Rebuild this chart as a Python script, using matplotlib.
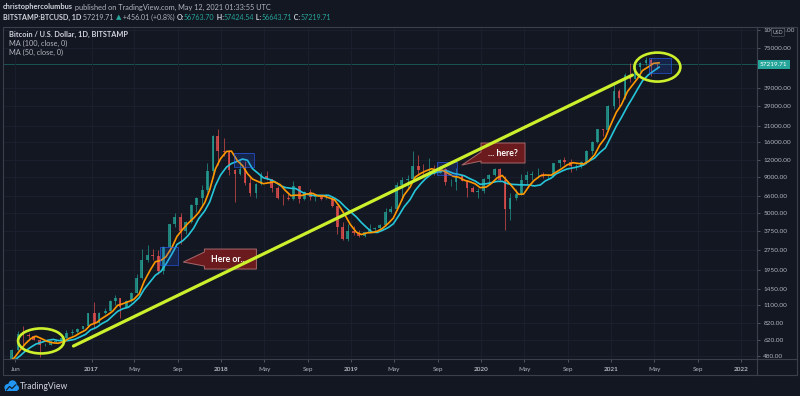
import numpy as np
import pandas as pd
import matplotlib
matplotlib.use("Agg")
import matplotlib.pyplot as plt
import matplotlib.dates as mdates
from matplotlib.patches import Rectangle, Ellipse, Polygon, Circle
from matplotlib.transforms import ScaledTranslation

W, H = 800, 396
BG = "#131722"
BORDER = "#3b3f4b"
GRID = "#1c2130"
UP = "#26a69a"
DOWN = "#ef5350"
MA100_COLOR = "#26c6da"
MA50_COLOR = "#ff9800"
LIME = "#cdf02c"
TXT = "#d1d4dc"
TXT2 = "#b2b5be"

plt.rcParams["font.family"] = ["Lato", "DejaVu Sans"]

# --------------------------------------------------
# Data: half-month candles of BTC/USD (Bitstamp)
# --------------------------------------------------
first_open = 430

closes_2016 = [385, 375, 405, 435, 415, 415, 430, 450, 455, 530, 690, 675,
               665, 625, 575, 575, 605, 610, 640, 700, 710, 745, 780, 965]
highs_2016 = [460, 410, 410, 445, 440, 425, 430, 470, 460, 540, 720, 780,
              705, 680, 630, 590, 620, 610, 645, 740, 745, 760, 790, 975]
lows_2016 = [370, 365, 365, 400, 405, 410, 410, 425, 440, 435, 525, 560,
             640, 620, 470, 565, 570, 590, 605, 630, 680, 705, 745, 775]

closes_2017 = [830, 965, 1010, 1190, 1240, 1075, 1180, 1350, 1720, 2300, 2500, 2480,
               1930, 2870, 4150, 4700, 3700, 4350, 5700, 6450, 7250, 9950, 17600, 13800]
highs_2017 = [1160, 990, 1060, 1210, 1300, 1250, 1210, 1360, 1850, 2780, 2980, 2780,
              2720, 2900, 4200, 4980, 4980, 4400, 5850, 6500, 7900, 11400, 17900, 19700]
lows_2017 = [750, 820, 960, 1000, 1100, 890, 1050, 1160, 1340, 1700, 2250, 2300,
             1850, 1830, 2650, 3950, 3000, 3550, 4250, 5100, 5550, 7100, 9500, 11000]

closes_2018 = [13600, 10200, 9500, 10300, 8200, 6950, 8000, 9250, 8700, 7500, 6450, 6400,
               6250, 7750, 6300, 7050, 6500, 6620, 6300, 6330, 5600, 4000, 3250, 3750]
highs_2018 = [17200, 14000, 10300, 11700, 11700, 9000, 8200, 9750, 9950, 8800, 7800, 6800,
              6850, 8500, 7800, 7200, 7400, 6850, 6700, 6800, 6550, 5650, 4350, 4200]
lows_2018 = [12800, 9300, 6000, 9300, 7900, 6600, 6450, 7900, 8600, 7050, 6300, 5750,
             6150, 6200, 5900, 6200, 6150, 6100, 6150, 6250, 5550, 3550, 3200, 3180]

closes_2019 = [3620, 3450, 3650, 3830, 3930, 4100, 5050, 5350, 7900, 8550, 8800, 10800,
               10200, 10100, 10300, 9600, 10300, 8300, 8300, 9150, 8500, 7550, 7100, 7200]
highs_2019 = [4050, 3800, 3680, 4200, 4000, 4150, 5450, 5650, 8300, 9050, 9300, 13800,
              12900, 11100, 12300, 11000, 10900, 10400, 8700, 10500, 9450, 8600, 7850, 7550]
lows_2019 = [3500, 3400, 3380, 3600, 3700, 3900, 4050, 5000, 5300, 6200, 7450, 8800,
             9400, 9100, 9800, 9400, 9600, 7900, 7800, 7300, 8500, 6550, 7050, 6450]

closes_2020 = [8800, 9350, 10350, 8550, 5350, 6450, 6850, 8650, 9300, 9450, 9450, 9150,
               9150, 11350, 11900, 11650, 10800, 10800, 11500, 13800, 16000, 19700, 19400, 29000]
highs_2020 = [8900, 9550, 10500, 10400, 9200, 7000, 7480, 9450, 10000, 9950, 10400, 9800,
              9450, 11450, 12100, 12450, 12100, 11200, 11700, 14000, 16300, 19800, 19900, 29300]
lows_2020 = [6900, 8250, 9150, 8500, 3800, 4450, 6150, 6750, 8100, 8650, 8950, 8850,
             8900, 9000, 10650, 11100, 9850, 10150, 10450, 11200, 13200, 15900, 17600, 19300]

closes_2021 = [36800, 33100, 47900, 45200, 55000, 58800, 61400, 57800, 57219.71]
highs_2021 = [41900, 38000, 49700, 58300, 61800, 60000, 64900, 63500, 59600]
lows_2021 = [27700, 28800, 32300, 43000, 44900, 50300, 57000, 47000, 53000]

period_start = pd.date_range("2016-01-01", "2021-05-01", freq="SMS")

price_ticks = [480, 620, 820, 1100, 1450, 1950, 2750, 3750, 5000, 6600, 9000,
               12000, 16000, 21000, 29000, 39000, 75000, 100000]
time_ticks = ["2016-06-01", "2017-01-01", "2017-05-01", "2017-09-01", "2018-01-01",
              "2018-05-01", "2018-09-01", "2019-01-01", "2019-05-01", "2019-09-01",
              "2020-01-01", "2020-05-01", "2020-09-01", "2021-01-01", "2021-05-01",
              "2021-09-01", "2022-01-01"]
time_labels = ["Jun", "2017", "May", "Sep", "2018", "May", "Sep", "2019", "May", "Sep",
               "2020", "May", "Sep", "2021", "May", "Sep", "2022"]

last_price = 57219.71

# drawings (date, price) placed on the chart
trend_line = [("2016-11-11", 565), ("2021-03-01", 48100)]
circles = [("2016-08-12", 614, 46, 25), ("2021-05-10", 54800, 46, 29)]
boxes = [("2017-07-13", "2017-09-02", 2135, 2860),
         ("2018-02-06", "2018-04-01", 10640, 13400),
         ("2019-08-29", "2019-10-25", 9330, 11560),
         ("2021-04-16", "2021-06-17", 49800, 63600)]

closes = np.array(closes_2016 + closes_2017 + closes_2018 + closes_2019 + closes_2020 + closes_2021)
highs = np.array(highs_2016 + highs_2017 + highs_2018 + highs_2019 + highs_2020 + highs_2021)
lows = np.array(lows_2016 + lows_2017 + lows_2018 + lows_2019 + lows_2020 + lows_2021)
opens = np.concatenate([[first_open], closes[:-1]])
assert len(closes) == len(period_start)

x_mid = mdates.date2num(period_start + pd.Timedelta(days=7))
x_end = mdates.date2num(period_start + pd.Timedelta(days=14))
ma50 = pd.Series(closes).rolling(4).mean()
ma100 = pd.Series(closes).rolling(7).mean()

# --------------------------------------------------
# Figure
# --------------------------------------------------
fig = plt.figure(figsize=(W / 100, H / 100), dpi=100, facecolor=BG)
ax = fig.add_axes([3 / W, 1 - 359 / H, 754 / W, 332 / H], facecolor=BG)

ax.set_yscale("log")
ax.set_xlim(mdates.date2num(pd.Timestamp("2016-04-27")), mdates.date2num(pd.Timestamp("2022-02-14")))
ax.set_ylim(456.7, 105760)

for s in ax.spines.values():
    s.set_visible(False)

ax.yaxis.tick_right()
ax.set_yticks(price_ticks)
ax.set_yticklabels([f"{p:.2f}" for p in price_ticks])
ax.yaxis.set_minor_locator(matplotlib.ticker.NullLocator())
ax.set_xticks(mdates.date2num(pd.to_datetime(time_ticks)))
ax.set_xticklabels(time_labels)
for lbl, txt in zip(ax.get_xticklabels(), time_labels):
    if txt.isdigit():
        lbl.set_fontweight("bold")
ax.tick_params(axis="both", colors="#6a6d78", labelcolor=TXT2, labelsize=4.6,
               length=2, width=0.5, direction="out")
ax.tick_params(axis="x", pad=3.5)
ax.tick_params(axis="y", pad=2.5)
ax.grid(True, color=GRID, lw=0.6)

# candles
up = closes >= opens
colors = np.where(up, UP, DOWN)
ax.vlines(x_mid, lows, highs, colors=colors, lw=0.6, alpha=0.75, zorder=2)
ax.bar(x_mid, np.abs(closes - opens), bottom=np.minimum(opens, closes), width=8,
       color=colors, alpha=0.75, lw=0, zorder=2)

# moving averages
ax.plot(x_end, ma100, color=MA100_COLOR, lw=1.2, zorder=3)
ax.plot(x_end, ma50, color=MA50_COLOR, lw=1.2, zorder=3)

# last price line + label
ax.axhline(last_price, color=UP, lw=0.6, alpha=0.5, zorder=1)
ax.text(1.004, last_price, f"{last_price:.2f}", transform=ax.get_yaxis_transform(),
        color="white", fontsize=4.6, va="center", ha="left", clip_on=False, zorder=6,
        bbox=dict(boxstyle="square,pad=0.35", facecolor=UP, edgecolor="none"))

# highlight boxes
for d0, d1, p0, p1 in boxes:
    x0 = mdates.date2num(pd.Timestamp(d0))
    x1 = mdates.date2num(pd.Timestamp(d1))
    ax.add_patch(Rectangle((x0, p0), x1 - x0, p1 - p0, facecolor="#2962ff", alpha=0.18,
                           edgecolor="none", zorder=4))
    ax.add_patch(Rectangle((x0, p0), x1 - x0, p1 - p0, facecolor="none",
                           edgecolor="#2962ff", alpha=0.6, lw=0.7, zorder=4))


def anchored(date, price):
    return fig.dpi_scale_trans + ScaledTranslation(
        mdates.date2num(pd.Timestamp(date)), price, ax.transData)


def callout(date, price, x0, y0, w, h, pa, pb, text):
    # box with a pointer on its left edge, pointer tip at (date, price)
    pts = [(x0, y0), (x0 + w, y0), (x0 + w, y0 + h), (x0, y0 + h), (x0, pa), (0, 0), (x0, pb)]
    ax.add_patch(Polygon(pts, closed=True, facecolor="#6b1a1e", edgecolor="#a8686a",
                         lw=0.7, joinstyle="round", transform=anchored(date, price),
                         zorder=5, clip_on=False))
    ax.text(x0 + w / 2, y0 + h / 2, text, transform=anchored(date, price), color="white",
            fontsize=6.3, fontweight="bold", ha="center", va="center", zorder=6)


callout("2017-09-16", 2240, 0.21, -0.07, 0.52, 0.20, 0.10, -0.04, "Here or....")
callout("2019-11-08", 11000, 0.19, 0.02, 0.44, 0.20, 0.13, 0.04, "... here?")

# trend line and circles
tx = mdates.date2num(pd.to_datetime([d for d, _ in trend_line]))
ty = [p for _, p in trend_line]
ax.plot(tx, ty, color=LIME, lw=2.3, solid_capstyle="round", zorder=7)
for d, p, w, h in circles:
    ax.add_patch(Ellipse((0, 0), w / 100, h / 100, transform=anchored(d, p), fill=False,
                         edgecolor=LIME, lw=1.9, zorder=7))

# legend text inside the pane
ax.text(6 / 754, 1 - 7 / 332, "Bitcoin / U.S. Dollar, 1D, BITSTAMP", transform=ax.transAxes,
        color=TXT, fontsize=5.3, fontweight="bold", va="center")
ax.text(6 / 754, 1 - 16 / 332, "MA (100, close, 0)", transform=ax.transAxes,
        color=TXT2, fontsize=5.3, va="center")
ax.text(6 / 754, 1 - 25 / 332, "MA (50, close, 0)", transform=ax.transAxes,
        color=TXT2, fontsize=5.3, va="center")

# --------------------------------------------------
# Frame, header and footer in pixel space
# --------------------------------------------------
ov = fig.add_axes([0, 0, 1, 1], facecolor="none")
ov.set_xlim(0, W)
ov.set_ylim(H, 0)
ov.axis("off")

ov.add_patch(Rectangle((3, 27), 794, 348, fill=False, edgecolor=BORDER, lw=0.8))
ov.plot([757, 757], [27, 375], color=BORDER, lw=0.8)
ov.plot([3, 797], [359, 359], color=BORDER, lw=0.8)

ov.text(778, 32.5, "USD", color=TXT2, fontsize=3.8, ha="center", va="center",
        bbox=dict(boxstyle="round,pad=0.25", facecolor=BG, edgecolor="#50535e", lw=0.5))

renderer = fig.canvas.get_renderer()


def write_row(x, y, pieces, size):
    for txt, color, weight in pieces:
        t = ov.text(x, y, txt, color=color, fontsize=size, fontweight=weight,
                    ha="left", va="center")
        x += t.get_window_extent(renderer).width


write_row(3, 7, [("christophercolumbus", TXT, "bold"),
                 (" published on TradingView.com, May 12, 2021 01:33:55 UTC", TXT2, "normal")], 5.3)
write_row(3, 17, [("BITSTAMP:BTCUSD, 1D", TXT, "bold"),
                  (" 57219.71 ", TXT2, "normal"), ("▲", UP, "normal"),
                  (" +456.01 (+0.8%) ", TXT2, "normal"),
                  ("O:", TXT, "bold"), ("56763.70", UP, "normal"),
                  (" H:", TXT, "bold"), ("57424.54", UP, "normal"),
                  (" L:", TXT, "bold"), ("56643.71", UP, "normal"),
                  (" C:", TXT, "bold"), ("57219.71", UP, "normal")], 5.1)

# TradingView logo
for cx, cy, r in [(8, 387.5, 3.6), (12.5, 384.5, 4.2), (16, 388, 3.0)]:
    ov.add_patch(Circle((cx, cy), r, color="#2196f3", lw=0))
ov.add_patch(Rectangle((5, 387), 12, 4.2, color="#2196f3", lw=0))
ov.plot([6.5, 9.5, 12, 15.5], [390, 386.5, 388.5, 385], color=BG, lw=0.8)
ov.text(19.5, 386.5, "TradingView", color=TXT, fontsize=6.2, ha="left", va="center")

fig.savefig("out.png", dpi=100, facecolor=BG)
